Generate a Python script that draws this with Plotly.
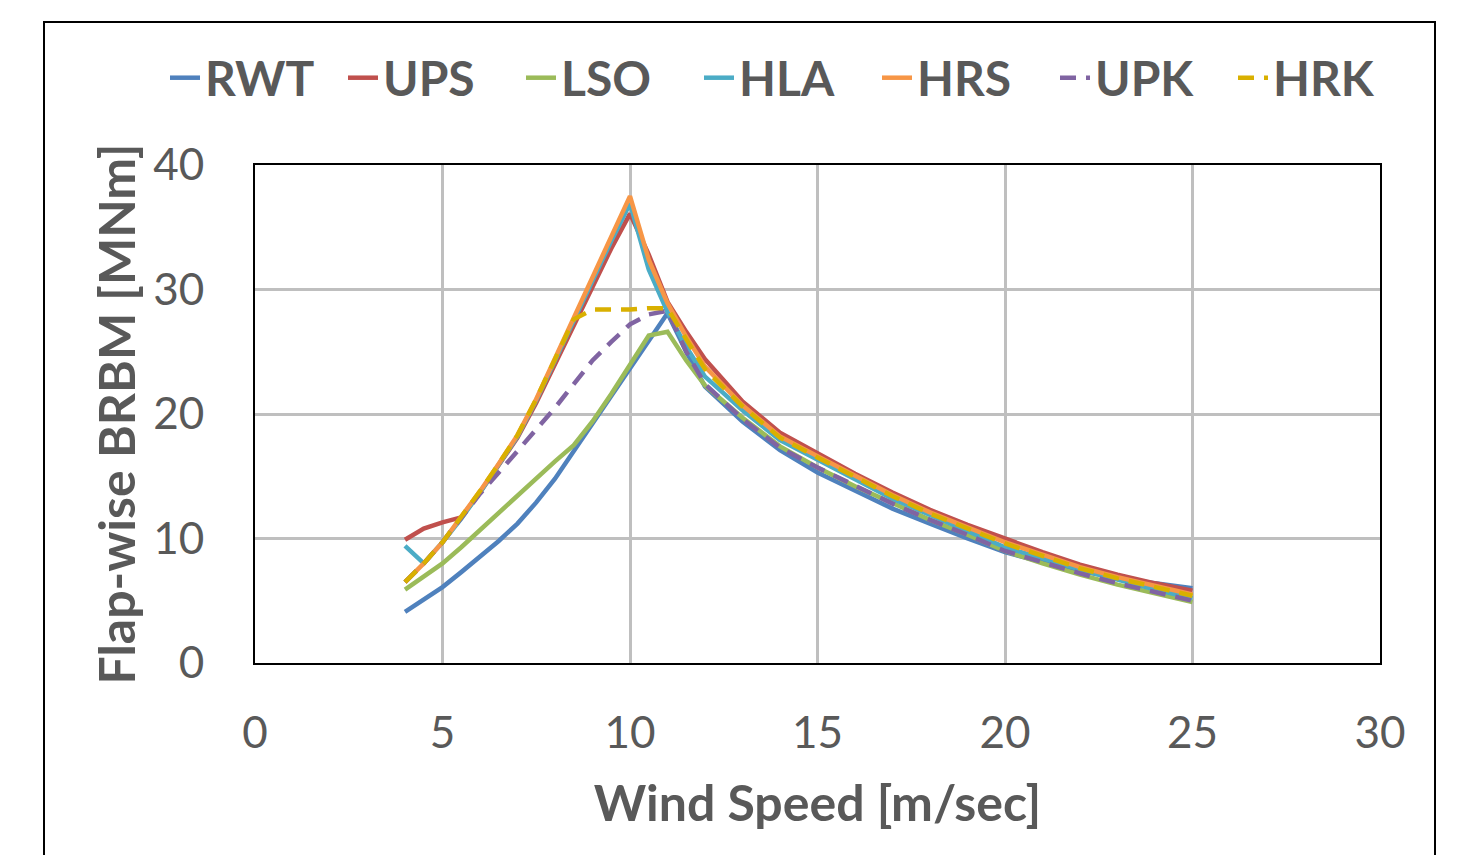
import plotly.graph_objects as go

wind_speed = [4, 4.5, 5, 5.5, 6, 6.5, 7, 7.5, 8, 8.5, 9, 9.5, 10, 10.5, 11, 11.5, 12,
              13, 14, 15, 16, 17, 18, 19, 20, 21, 22, 23, 24, 25]

rwt = [4.1, 5.1, 6.1, 7.3, 8.5, 9.8, 11.2, 12.9, 14.8, 17.0, 19.2, 21.4, 23.6, 25.9, 28.1, 25.0, 22.2,
       19.4, 17.1, 15.3, 13.8, 12.4, 11.2, 10.0, 8.9, 8.1, 7.4, 6.8, 6.4, 6.0]
ups = [9.9, 10.8, 11.3, 11.7, 13.7, 15.9, 18.1, 20.9, 24.0, 27.2, 30.3, 33.3, 36.1, 32.8, 29.0, 26.6, 24.4,
       21.0, 18.5, 16.8, 15.2, 13.7, 12.3, 11.1, 10.0, 8.9, 7.9, 7.1, 6.4, 5.8]
lso = [5.9, 7.0, 8.0, 9.3, 10.7, 12.1, 13.5, 14.9, 16.2, 17.5, 19.4, 21.6, 23.9, 26.3, 26.6, 24.3, 22.3,
       19.7, 17.4, 15.7, 14.2, 12.8, 11.5, 10.3, 9.0, 8.0, 7.1, 6.3, 5.6, 4.9]
hla = [9.4, 8.0, 9.7, 11.6, 13.7, 15.9, 18.2, 21.1, 24.3, 27.6, 30.8, 33.9, 36.9, 31.6, 28.2, 25.4, 23.0,
       20.3, 17.9, 16.3, 14.7, 13.2, 11.9, 10.6, 9.3, 8.4, 7.5, 6.7, 5.9, 5.2]
hrs = [6.5, 8.0, 9.7, 11.7, 13.8, 16.0, 18.3, 21.2, 24.5, 27.8, 31.0, 34.2, 37.5, 32.4, 28.9, 26.2, 23.8,
       20.7, 18.2, 16.6, 15.0, 13.5, 12.1, 10.9, 9.7, 8.7, 7.7, 6.9, 6.2, 5.5]
upk = [6.5, 8.0, 9.7, 11.7, 13.6, 15.3, 17.0, 18.8, 20.5, 22.4, 24.3, 25.8, 27.2, 28.0, 28.3, 25.0, 22.4,
       19.6, 17.3, 15.7, 14.2, 12.8, 11.5, 10.3, 9.0, 8.1, 7.2, 6.4, 5.7, 5.0]
hrk = [6.5, 8.0, 9.7, 11.7, 13.8, 16.0, 18.3, 21.2, 24.5, 27.6, 28.4, 28.4, 28.4, 28.5, 28.5, 26.0, 23.6,
       20.6, 18.1, 16.5, 14.9, 13.4, 12.0, 10.8, 9.6, 8.6, 7.6, 6.8, 6.1, 5.4]

series_names = ["RWT", "UPS", "LSO", "HLA", "HRS", "UPK", "HRK"]
series_values = [rwt, ups, lso, hla, hrs, upk, hrk]
series_colors = ["#4F81BD", "#C0504D", "#9BBB59", "#4BACC6", "#F79646", "#8064A2", "#D9B000"]
series_dash = ["solid", "solid", "solid", "solid", "solid", "16px,10px", "16px,10px"]

x_ticks = [0, 5, 10, 15, 20, 25, 30]
y_ticks = [0, 10, 20, 30, 40]

FONT = "Lato, 'Open Sans', sans-serif"
TXT = "#595959"

fig = go.Figure()
for name, vals, col, dash in zip(series_names, series_values, series_colors, series_dash):
    fig.add_trace(go.Scatter(
        x=wind_speed, y=vals, mode="lines", name=name,
        line=dict(color=col, width=4.5, dash=dash),
    ))

fig.update_layout(
    width=1462, height=855,
    margin=dict(l=255, r=82, t=165, b=192),
    paper_bgcolor="white", plot_bgcolor="white",
    font=dict(family=FONT, color=TXT),
    showlegend=True,
    legend=dict(
        orientation="h", x=(165 - 255) / 1125, xanchor="left",
        y=(663 - 78) / 498, yanchor="middle",
        font=dict(family=FONT, size=48, color=TXT, weight="bold"),
        entrywidth=133, entrywidthmode="pixels",
        tracegroupgap=0, itemwidth=30, bgcolor="rgba(0,0,0,0)",
    ),
    shapes=[dict(type="rect", xref="paper", yref="paper",
                 x0=(44 - 255) / 1125, x1=(1435 - 255) / 1125,
                 y0=-0.45, y1=(663 - 22) / 498,
                 line=dict(color="black", width=2), fillcolor="rgba(0,0,0,0)", layer="below")],
)

fig.update_xaxes(
    range=[0, 30], tickvals=x_ticks, ticktext=[str(v) for v in x_ticks],
    showgrid=True, gridcolor="#BFBFBF", gridwidth=2.5,
    showline=True, linecolor="black", linewidth=2, mirror=True, zeroline=False,
    ticks="", ticklabelstandoff=30,
    tickfont=dict(family=FONT, size=44, color=TXT),
    title=dict(text="Wind Speed [m/sec]", standoff=30,
               font=dict(family=FONT, size=50, color=TXT, weight="bold")),
)
fig.update_yaxes(
    range=[0, 40], tickvals=y_ticks, ticktext=[str(v) for v in y_ticks],
    showgrid=True, gridcolor="#BFBFBF", gridwidth=2.5,
    showline=True, linecolor="black", linewidth=2, mirror=True, zeroline=False,
    ticks="", ticklabelstandoff=40,
    tickfont=dict(family=FONT, size=44, color=TXT),
    title=dict(text="Flap-wise BRBM [MNm]", standoff=2,
               font=dict(family=FONT, size=50, color=TXT, weight="bold")),
)

fig.write_html("out.html")
